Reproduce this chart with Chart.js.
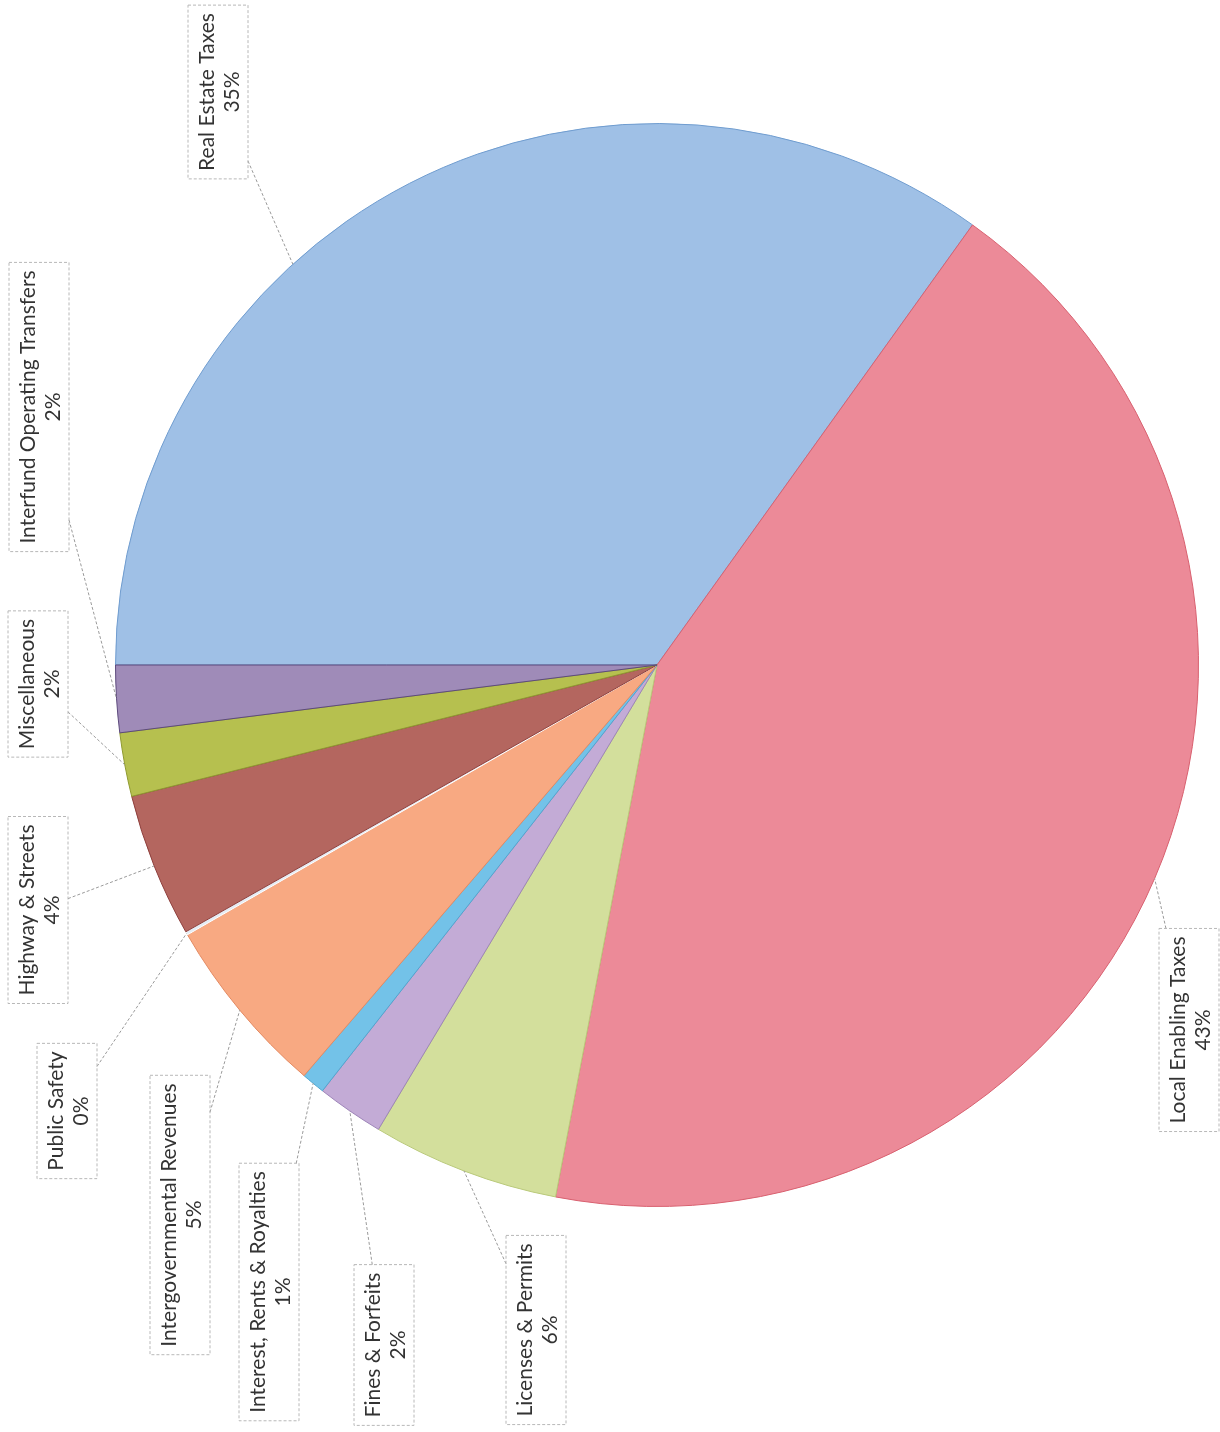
<!DOCTYPE html>
<html>
<head>
<meta charset="utf-8">
<script src="https://cdn.jsdelivr.net/npm/chart.js@4.4.0/dist/chart.umd.min.js"></script>
<style>
    html, body { margin: 0; padding: 0; background: #fff; }
    #grafico { display: block; }
</style>
</head>
<body>
<canvas id="grafico" width="1220" height="1432"></canvas>
<script>
// dados (percentuais de receita)
const categorias = [
    'Real Estate Taxes',
    'Local Enabling Taxes',
    'Licenses & Permits',
    'Fines & Forfeits',
    'Interest, Rents & Royalties',
    'Intergovernmental Revenues',
    'Public Safety',
    'Highway & Streets',
    'Miscellaneous',
    'Interfund Operating Transfers'
];
const valores = [34.9, 43.1, 5.6, 2.0, 0.7, 5.4, 0.1, 4.3, 1.9, 2.0];

const cores = ['#9fc0e6', '#ec8a98', '#d3df9c', '#c3abd6', '#73c2e8',
               '#f8a982', '#e4ecf4', '#b4665f', '#b6c04f', '#9f8bb8'];
const bordas = ['#6f9ccf', '#d8606f', '#b9c97a', '#9d84b8', '#4fa6cf',
                '#e38a62', '#ffffff', '#8e3f3c', '#8f9a30', '#5d4a7d'];

// posicao (centro) das caixas de rotulo e ponto da linha guia na fatia
const posRotulos = [[218, 92], [1189, 1030], [536, 1330], [384, 1345], [269, 1292],
                    [180, 1215], [67, 1111], [38, 910], [38, 684], [39, 407]];
const pontoLinha = [0.38, 0.5, 0.5, 0.5, 0.5, 0.5, 0.5, 0.5, 0.5, 0.5];

const pluginRotulos = {
    id: 'rotulos',
    afterDraw(chart) {
        const ctx = chart.ctx;
        const arcos = chart.getDatasetMeta(0).data;
        const total = valores.reduce((a, b) => a + b, 0);
        ctx.save();
        ctx.font = '21px Lato';
        arcos.forEach((arco, i) => {
            const p = arco.getProps(['x', 'y', 'startAngle', 'endAngle', 'outerRadius'], true);
            const ang = p.startAngle + (p.endAngle - p.startAngle) * pontoLinha[i];
            const alvoX = p.x + Math.cos(ang) * p.outerRadius;
            const alvoY = p.y + Math.sin(ang) * p.outerRadius;

            const nome = categorias[i];
            const pct = Math.round(valores[i] / total * 100) + '%';
            const larg = Math.max(ctx.measureText(nome).width, ctx.measureText(pct).width);
            const comp = larg + 16;
            const esp = 60;
            const cx = posRotulos[i][0], cy = posRotulos[i][1];
            const x0 = cx - esp / 2, y0 = cy - comp / 2;

            // ponto de saida da linha guia na borda da caixa
            const dx = alvoX - cx, dy = alvoY - cy;
            let t = Infinity;
            if (dx !== 0) t = Math.min(t, (esp / 2) / Math.abs(dx));
            if (dy !== 0) t = Math.min(t, (comp / 2) / Math.abs(dy));
            const sx = cx + dx * t, sy = cy + dy * t;

            ctx.setLineDash([3, 2]);
            ctx.lineWidth = 1;
            ctx.strokeStyle = '#9a9a9a';
            ctx.beginPath();
            ctx.moveTo(sx, sy);
            ctx.lineTo(alvoX, alvoY);
            ctx.stroke();

            ctx.strokeStyle = '#b8b8b8';
            ctx.strokeRect(x0, y0, esp, comp);
            ctx.setLineDash([]);

            ctx.save();
            ctx.translate(cx, cy);
            ctx.rotate(-Math.PI / 2);
            ctx.fillStyle = '#333333';
            ctx.textAlign = 'center';
            ctx.textBaseline = 'middle';
            ctx.fillText(nome, 0, -11);
            ctx.fillText(pct, 0, 14);
            ctx.restore();
        });
        ctx.restore();
    }
};

const config = {
    type: 'pie',
    data: {
        labels: categorias,
        datasets: [{
            data: valores,
            backgroundColor: cores,
            borderColor: bordas,
            borderWidth: 1
        }]
    },
    options: {
        responsive: false,
        animation: false,
        rotation: -90,
        layout: {
            padding: { left: 115, right: 21, top: 123, bottom: 225 }
        },
        plugins: {
            legend: { display: false },
            tooltip: { enabled: false }
        }
    },
    plugins: [pluginRotulos]
};

const grafico = new Chart(document.getElementById('grafico').getContext('2d'), config);
</script>
</body>
</html>
